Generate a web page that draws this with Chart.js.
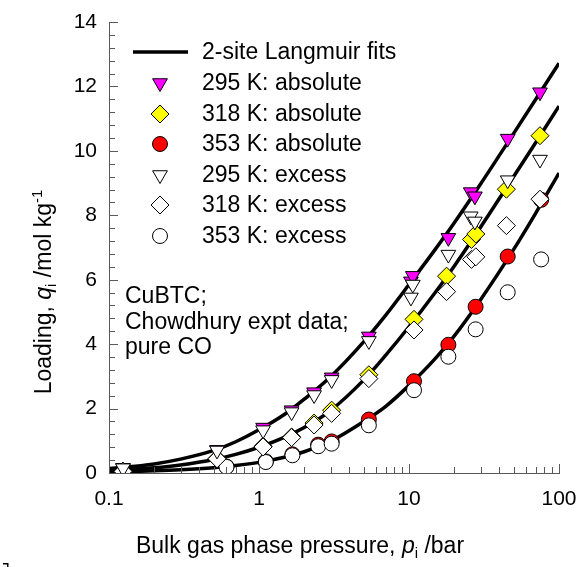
<!DOCTYPE html>
<html>
<head>
<meta charset="utf-8">
<script src="https://cdn.jsdelivr.net/npm/chart.js@4.4.0/dist/chart.umd.min.js"></script>
<style>
  html, body { margin: 0; padding: 0; background: #fff; }
  #wrap { width: 587px; height: 567px; }
</style>
</head>
<body>
<div id="wrap"><canvas id="chart" width="587" height="567"></canvas></div>
<script>
// --- DATA ---
const xTickValues = [0.1, 1, 10, 100];

// 2-site Langmuir fit lines, sampled along the drawn curves
const fitP   = [0.1, 0.15, 0.2, 0.3, 0.5, 0.7, 1, 1.5, 2, 3, 5, 7, 10, 15, 20, 30, 50, 70, 100];
const fit295 = [0.14, 0.21, 0.28, 0.43, 0.70, 0.97, 1.34, 1.84, 2.29, 2.99, 4.08, 4.90, 5.85, 6.95, 7.76, 8.97, 10.55, 11.60, 12.72];
const fit318 = [0.08, 0.12, 0.16, 0.25, 0.42, 0.58, 0.80, 1.12, 1.41, 1.94, 2.89, 3.66, 4.54, 5.61, 6.42, 7.63, 9.21, 10.26, 11.39];
const fit353 = [0.033, 0.05, 0.066, 0.10, 0.166, 0.232, 0.33, 0.495, 0.66, 0.985, 1.60, 2.07, 2.72, 3.56, 4.25, 5.38, 6.95, 8.07, 9.31];

// experimental points
const p295    = [0.124, 0.525, 1.065, 1.65, 2.33, 3.05, 5.4, 10.3, 10.6, 18.3, 25.8, 27.5, 45.5, 74.7];
const abs295  = [0.16, 0.72, 1.41, 1.95, 2.51, 2.97, 4.24, 5.95, 6.12, 7.30, 8.72, 8.59, 10.38, 11.82];
const exc295  = [0.15, 0.70, 1.33, 1.89, 2.42, 2.89, 4.10, 5.45, 5.85, 6.78, 7.97, 7.81, 9.09, 9.73];

const p318    = [0.124, 0.525, 1.065, 1.65, 2.33, 3.05, 5.4, 10.8, 17.8, 26.1, 27.9, 44.6, 74.7];
const abs318  = [0.06, 0.45, 0.83, 1.12, 1.55, 1.95, 3.05, 4.77, 6.11, 7.25, 7.42, 8.81, 10.47];
const exc318  = [0.05, 0.44, 0.81, 1.10, 1.49, 1.85, 2.93, 4.44, 5.63, 6.63, 6.71, 7.68, 8.50];

const p353    = [0.607, 1.11, 1.67, 2.48, 3.05, 5.4, 10.8, 18.3, 27.8, 45.5, 76];
const abs353  = [0.20, 0.36, 0.58, 0.88, 0.98, 1.66, 2.85, 3.98, 5.16, 6.72, 8.48];
const exc353  = [0.19, 0.34, 0.55, 0.83, 0.91, 1.48, 2.57, 3.61, 4.46, 5.61, 6.63];

const legendLabels = ['2-site Langmuir fits', '295 K: absolute', '318 K: absolute', '353 K: absolute',
                      '295 K: excess', '318 K: excess', '353 K: excess'];
const noteLines = ['CuBTC;', 'Chowdhury expt data;', 'pure CO'];

// --- helpers ---
const FONT = '"Liberation Sans", Arial, sans-serif';
const AXIS_COLOR = '#5a5a5a';

function pts(xs, ys) {
    return xs.map((x, i) => ({ x: x, y: ys[i] }));
}

function fitLine(ys) {
    return {
        data: pts(fitP, ys),
        showLine: true,
        borderColor: '#000',
        borderWidth: 3.5,
        pointRadius: 0,
        cubicInterpolationMode: 'monotone',
        order: 3
    };
}

function markers(xs, ys, style, fill, order) {
    return {
        data: pts(xs, ys),
        showLine: false,
        pointStyle: style.shape,
        rotation: style.rotation || 0,
        pointRadius: style.radius,
        pointBackgroundColor: fill,
        pointBorderColor: '#000',
        pointBorderWidth: 1,
        order: order
    };
}

const TRI = { shape: 'triangle', rotation: 180, radius: 8.5 };
const DIA = { shape: 'rectRot', radius: 9 };
const CIR = { shape: 'circle', radius: 7.5 };

const datasets = [
    fitLine(fit295), fitLine(fit318), fitLine(fit353),
    markers(p295, abs295, TRI, '#ff00ff', 2),
    markers(p318, abs318, DIA, '#ffff00', 2),
    markers(p353, abs353, CIR, '#ff0000', 2),
    markers(p295, exc295, TRI, '#ffffff', 1),
    markers(p318, exc318, DIA, '#ffffff', 1),
    markers(p353, exc353, CIR, '#ffffff', 1)
];

function drawRich(ctx, parts, x, y) {
    let cx = x;
    parts.forEach(p => {
        ctx.font = p.font;
        ctx.fillText(p.t, cx, y + (p.dy || 0));
        cx += ctx.measureText(p.t).width;
    });
}

function richWidth(ctx, parts) {
    let w = 0;
    parts.forEach(p => { ctx.font = p.font; w += ctx.measureText(p.t).width; });
    return w;
}

// inward ticks, legend, note and axis titles
const decorations = {
    id: 'decorations',
    afterDraw(chart) {
        const ctx = chart.ctx;
        const xs = chart.scales.x, ys = chart.scales.y;
        const area = chart.chartArea;
        ctx.save();

        // ticks pointing into the plot
        ctx.strokeStyle = AXIS_COLOR;
        ctx.lineWidth = 1;
        ctx.beginPath();
        for (let i = 0; i <= 35; i++) {
            const y = Math.round(ys.getPixelForValue(i * 0.4)) + 0.5;
            const len = (i % 5 === 0) ? 9 : 6;
            ctx.moveTo(area.left, y);
            ctx.lineTo(area.left + len, y);
        }
        [0.1, 1, 10].forEach(d => {
            for (let k = 1; k <= 9; k++) {
                const x = Math.round(xs.getPixelForValue(k * d)) + 0.5;
                const len = (k === 1) ? 9 : 6;
                ctx.moveTo(x, area.bottom);
                ctx.lineTo(x, area.bottom - len);
            }
        });
        const x100 = Math.round(xs.getPixelForValue(100)) + 0.5;
        ctx.moveTo(x100, area.bottom);
        ctx.lineTo(x100, area.bottom - 9);
        ctx.stroke();

        // legend
        const lx = 160, tx = 202, rows = [52, 83, 114, 144, 175, 205, 236];
        ctx.strokeStyle = '#000';
        ctx.lineWidth = 3.5;
        ctx.beginPath();
        ctx.moveTo(133, rows[0]);
        ctx.lineTo(188, rows[0]);
        ctx.stroke();
        for (let i = 1; i < rows.length; i++) {
            const ds = datasets[i + 2];
            ctx.fillStyle = ds.pointBackgroundColor;
            ctx.strokeStyle = '#000';
            ctx.lineWidth = 1;
            Chart.helpers.drawPoint(ctx, {
                pointStyle: ds.pointStyle, rotation: ds.rotation,
                radius: ds.pointRadius, borderWidth: 1
            }, lx, rows[i]);
        }
        ctx.fillStyle = '#000';
        ctx.font = '23px ' + FONT;
        ctx.textBaseline = 'middle';
        ctx.textAlign = 'left';
        legendLabels.forEach((t, i) => ctx.fillText(t, tx, rows[i] + 1));

        // note
        noteLines.forEach((t, i) => ctx.fillText(t, 125, 297 + i * 25.5));

        // x axis title
        ctx.textBaseline = 'alphabetic';
        const n = '23px ' + FONT, it = 'italic 23px ' + FONT, sm = '15px ' + FONT;
        const xt = [
            { t: 'Bulk gas phase pressure, ', font: n },
            { t: 'p', font: it },
            { t: 'i', font: sm, dy: 5 },
            { t: ' /bar', font: n }
        ];
        drawRich(ctx, xt, 300 - richWidth(ctx, xt) / 2, 553);

        // y axis title
        const yt = [
            { t: 'Loading, ', font: n },
            { t: 'q', font: it },
            { t: 'i', font: sm, dy: 5 },
            { t: ' /mol kg', font: n },
            { t: '-1', font: sm, dy: -9 }
        ];
        ctx.save();
        ctx.translate(51, 292);
        ctx.rotate(-Math.PI / 2);
        drawRich(ctx, yt, -richWidth(ctx, yt) / 2, 0);
        ctx.restore();

        // small clipped mark at the bottom-left corner of the figure
        ctx.fillStyle = '#000';
        ctx.fillRect(3, 563, 5, 1.5);
        ctx.fillRect(7, 563, 1.5, 4);

        ctx.restore();
    }
};

const ctx = document.getElementById('chart').getContext('2d');
const chart = new Chart(ctx, {
    type: 'scatter',
    data: { datasets: datasets },
    options: {
        responsive: false,
        animation: false,
        events: [],
        layout: { padding: { left: 0, right: 28, top: 22, bottom: 0 } },
        plugins: {
            legend: { display: false },
            tooltip: { enabled: false }
        },
        scales: {
            x: {
                type: 'logarithmic',
                min: 0.1,
                max: 100,
                grid: { display: false, drawTicks: false },
                border: { display: true, color: AXIS_COLOR, width: 1 },
                afterBuildTicks: (scale) => { scale.ticks = xTickValues.map(v => ({ value: v })); },
                afterFit: (scale) => {
                    scale.height = 94;
                    scale.paddingLeft = 0;
                    scale.paddingRight = 0;
                },
                ticks: {
                    autoSkip: false,
                    maxRotation: 0,
                    padding: 14,
                    color: '#000',
                    font: { family: FONT, size: 21 },
                    callback: (v) => String(v)
                }
            },
            y: {
                min: 0,
                max: 14,
                grid: { display: false, drawTicks: false },
                border: { display: true, color: AXIS_COLOR, width: 1 },
                afterFit: (scale) => {
                    scale.width = 109;
                    scale.paddingTop = 0;
                    scale.paddingBottom = 0;
                },
                ticks: {
                    stepSize: 2,
                    padding: 12,
                    color: '#000',
                    font: { family: FONT, size: 21 }
                }
            }
        }
    },
    plugins: [decorations]
});
</script>
</body>
</html>
